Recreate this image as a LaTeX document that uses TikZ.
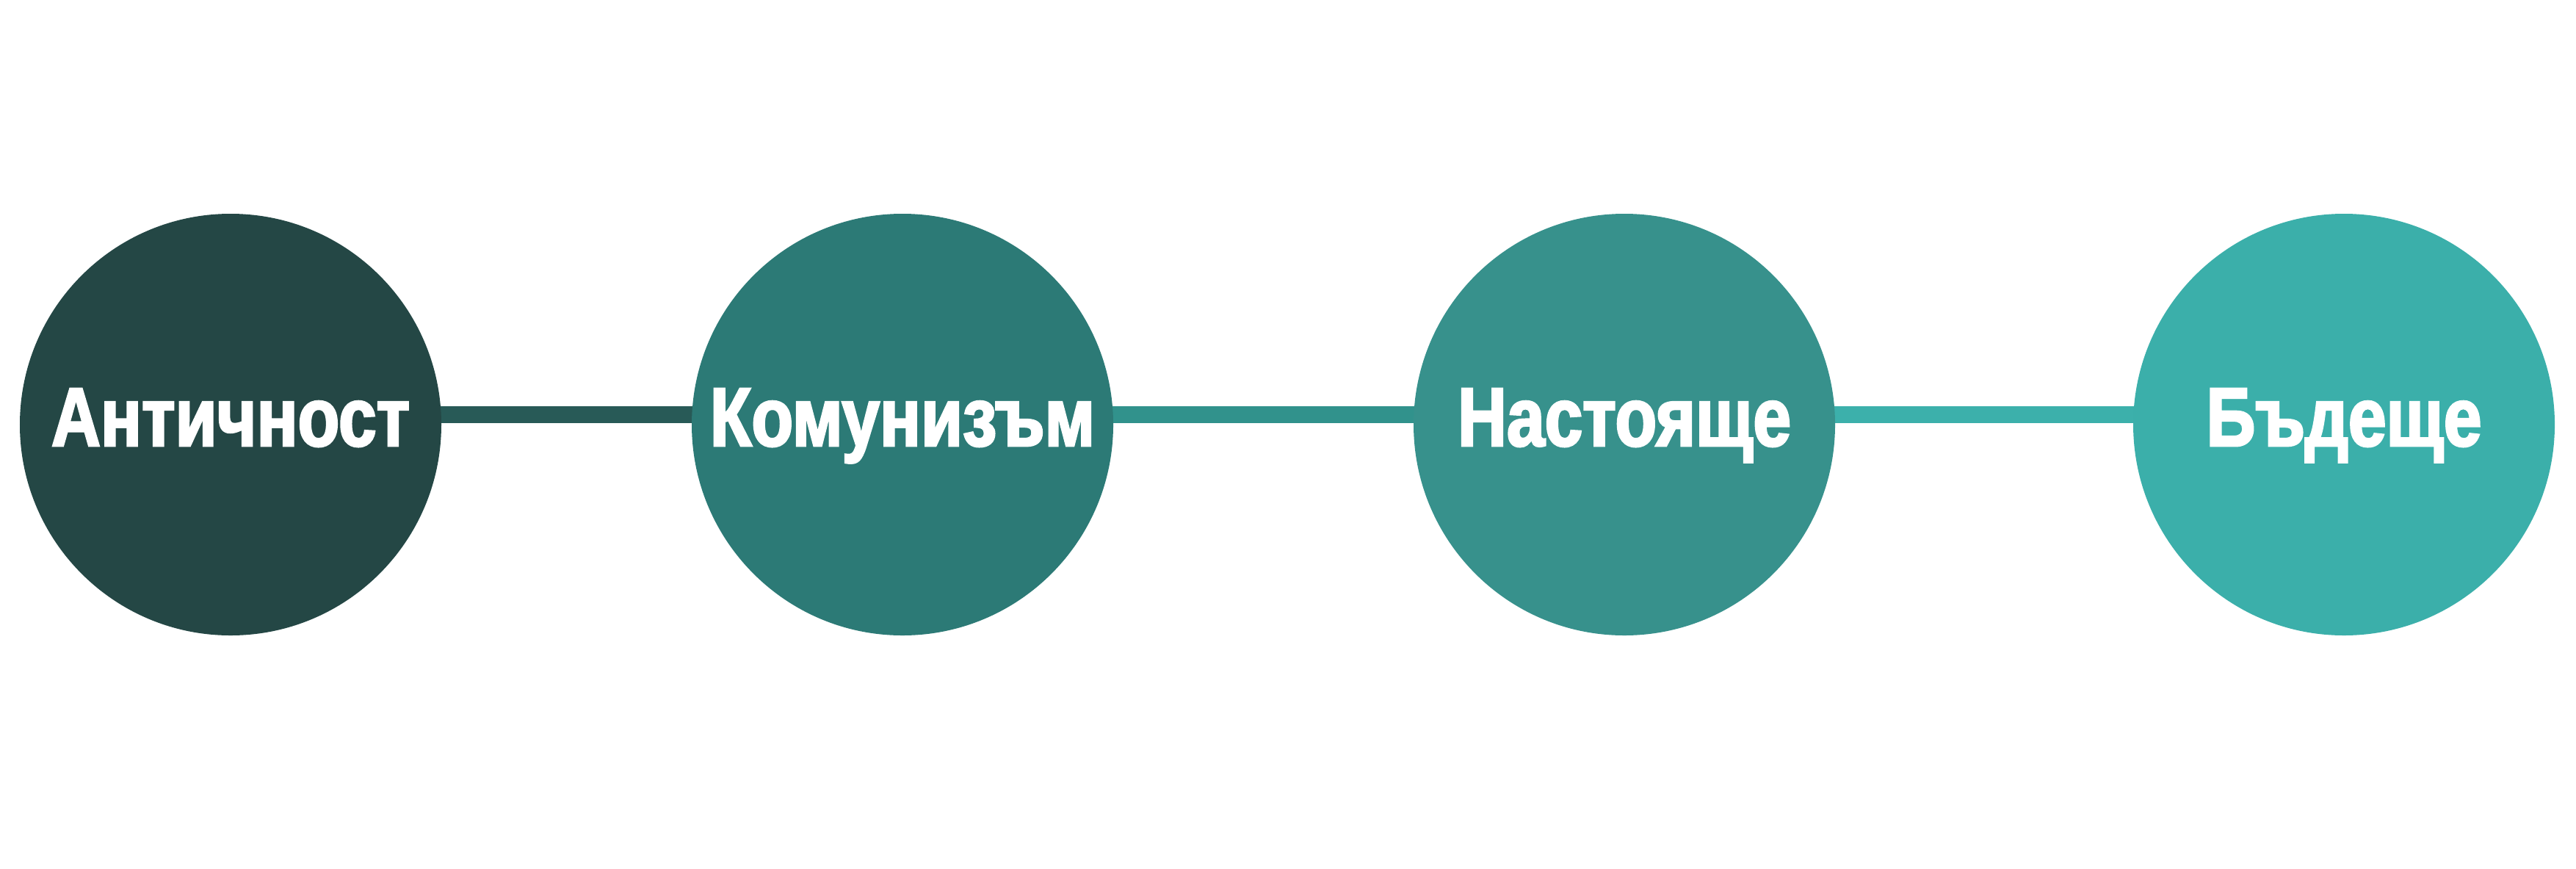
\documentclass[tikz,border=0pt]{standalone}
\usepackage{fontspec}
\newfontfamily\erafont{Liberation Sans Bold}[FakeStretch=0.82,FakeBold=2.5]
\usepackage{tikz}
\usetikzlibrary{backgrounds}
\definecolor{era1}{HTML}{244745}
\definecolor{era2}{HTML}{2C7A76}
\definecolor{era3}{HTML}{37918C}
\definecolor{era4}{HTML}{3BAFAA}
\definecolor{link1}{HTML}{285A57}
\definecolor{link2}{HTML}{31928C}
\definecolor{link3}{HTML}{3CB0AB}
\tikzset{
  era/.style={circle, fill=#1, minimum size=5.74cm, inner sep=0pt,
    text=white, font=\erafont\fontsize{32.2}{36}\selectfont,
    text height=0.58cm, text depth=0pt},
  link/.style={draw=#1, line width=0.23cm}
}

\begin{document}
\begin{tikzpicture}
  \useasboundingbox (0,0) rectangle (35.08,11.82);
  \node[era=era1] (A) at (3.14,6.04)  {Античност};
  \node[era=era2] (B) at (12.29,6.04) {Комунизъм};
  \node[era=era3] (C) at (22.12,6.04) {Настояще};
  \node[era=era4] (D) at (31.92,6.04) {Бъдеще};
  \begin{scope}[on background layer]
    \draw[link=link1]([yshift=1.35mm]A.center)--([yshift=1.35mm]B.center);
    \draw[link=link2]([yshift=1.35mm]B.center)--([yshift=1.35mm]C.center);
    \draw[link=link3]([yshift=1.35mm]C.center)--([yshift=1.35mm]D.center);
  \end{scope}
\end{tikzpicture}
\end{document}
